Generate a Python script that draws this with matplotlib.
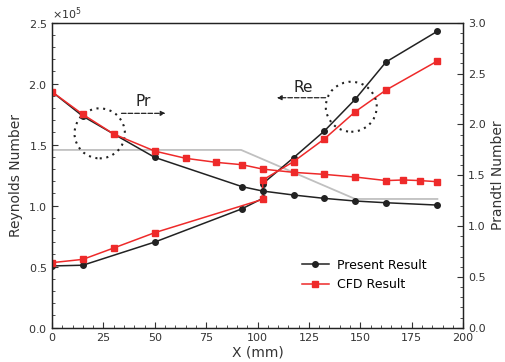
import matplotlib
matplotlib.use("Agg")
from matplotlib import pyplot as plt
from matplotlib.patches import Ellipse
from matplotlib.ticker import MultipleLocator, ScalarFormatter

# Reynolds number (left axis)
re_present_x = [0, 15, 50, 92.5, 102.5, 102.5, 117.5, 132.5, 147.5, 162.5, 187.5]
re_present_y = [0.506, 0.512, 0.702, 0.975, 1.06, 1.18, 1.393, 1.612, 1.872, 2.178, 2.43]
re_cfd_x = [0, 15, 30, 50, 102.5, 102.5, 117.5, 132.5, 147.5, 162.5, 187.5]
re_cfd_y = [0.533, 0.56, 0.653, 0.779, 1.052, 1.21, 1.361, 1.547, 1.77, 1.948, 2.186]

# Prandtl number (right axis)
pr_present_x = [0, 15, 30, 50, 92.5, 102.5, 117.5, 132.5, 147.5, 162.5, 187.5]
pr_present_y = [2.32, 2.08, 1.905, 1.675, 1.387, 1.344, 1.305, 1.272, 1.246, 1.229, 1.206]
pr_cfd_x = [0, 15, 30, 50, 65, 80, 92.5, 102.5, 117.5, 132.5, 147.5, 162.5, 171, 179, 187.5]
pr_cfd_y = [2.32, 2.098, 1.905, 1.737, 1.666, 1.626, 1.603, 1.56, 1.528, 1.508, 1.482,
            1.447, 1.453, 1.447, 1.436]

# gray outline
outline_x = [0, 92, 147.5, 187.5]
outline_y = [1.457, 1.457, 1.055, 1.055]

black = '#222222'
red = '#ee2a2a'
plt.rcParams['font.family'] = ['DejaVu Sans']

fig = plt.figure(figsize=(5.05, 3.62), dpi=100)
ax = fig.add_axes([0.103, 0.0948, 0.814, 0.8425])
ax2 = ax.twinx()

ax.plot(outline_x, [v * 1e5 for v in outline_y], color='#c0c0c0', lw=1.3, zorder=1)
ax.plot(re_present_x, [v * 1e5 for v in re_present_y], color=black, lw=1.1,
        marker='o', ms=4, label='Present Result')
ax.plot(re_cfd_x, [v * 1e5 for v in re_cfd_y], color=red, lw=1.1,
        marker='s', ms=5, label='CFD Result')
ax2.plot(pr_present_x, pr_present_y, color=black, lw=1.1, marker='o', ms=4)
ax2.plot(pr_cfd_x, pr_cfd_y, color=red, lw=1.1, marker='s', ms=5)

ax.set_xlim(0, 200)
ax.set_ylim(0, 2.5e5)
ax2.set_ylim(0, 3.0)

fmt = ScalarFormatter(useMathText=True)
fmt.set_powerlimits((0, 0))
ax.yaxis.set_major_formatter(fmt)
ax.yaxis.get_offset_text().set_fontsize(8)

ax.xaxis.set_major_locator(MultipleLocator(25))
ax.xaxis.set_minor_locator(MultipleLocator(5))
ax.yaxis.set_major_locator(MultipleLocator(0.5e5))
ax.yaxis.set_minor_locator(MultipleLocator(0.1e5))
ax2.yaxis.set_major_locator(MultipleLocator(0.5))
ax2.yaxis.set_minor_locator(MultipleLocator(0.1))

for a in (ax, ax2):
    a.tick_params(which='both', direction='in', labelsize=8, colors='#333333')
    a.tick_params(which='major', length=4)
    a.tick_params(which='minor', length=2)
    for s in a.spines.values():
        s.set_linewidth(0.9)
        s.set_color(black)
ax.tick_params(axis='y', which='both', right=False)
ax.tick_params(axis='x', which='both', top=False)

ax.set_xlabel('X (mm)', fontsize=10, color='#333333', labelpad=2)
ax.set_ylabel('Reynolds Number', fontsize=10, color='#333333')
ax2.set_ylabel('Prandtl Number', fontsize=10, color='#333333')

# circles and arrows
ax.add_patch(Ellipse((23.2, 1.593e5), 24.5, 0.41e5, fill=False, ec=black,
                     lw=1.5, ls=(0, (1, 2.2)), zorder=5))
ax.add_patch(Ellipse((145.6, 1.811e5), 24.8, 0.41e5, fill=False, ec=black,
                     lw=1.5, ls=(0, (1, 2.2)), zorder=5))
ax.annotate('', xy=(55.2, 1.757e5), xytext=(33.8, 1.757e5),
            arrowprops=dict(arrowstyle='-|>', ls='--', lw=0.9, color=black,
                            mutation_scale=7, shrinkA=0, shrinkB=0))
ax.annotate('', xy=(109.4, 1.885e5), xytext=(133.1, 1.885e5),
            arrowprops=dict(arrowstyle='-|>', ls='--', lw=0.9, color=black,
                            mutation_scale=7, shrinkA=0, shrinkB=0))
ax.text(44.6, 1.855e5, 'Pr', fontsize=11, color='#222222', ha='center', va='center')
ax.text(122.1, 1.97e5, 'Re', fontsize=11, color='#222222', ha='center', va='center')

ax.legend(loc='lower left', bbox_to_anchor=(0.58, 0.083), frameon=False, fontsize=9,
          handlelength=2.2, handletextpad=0.6, labelspacing=0.5)

fig.savefig('out.png', dpi=100)
